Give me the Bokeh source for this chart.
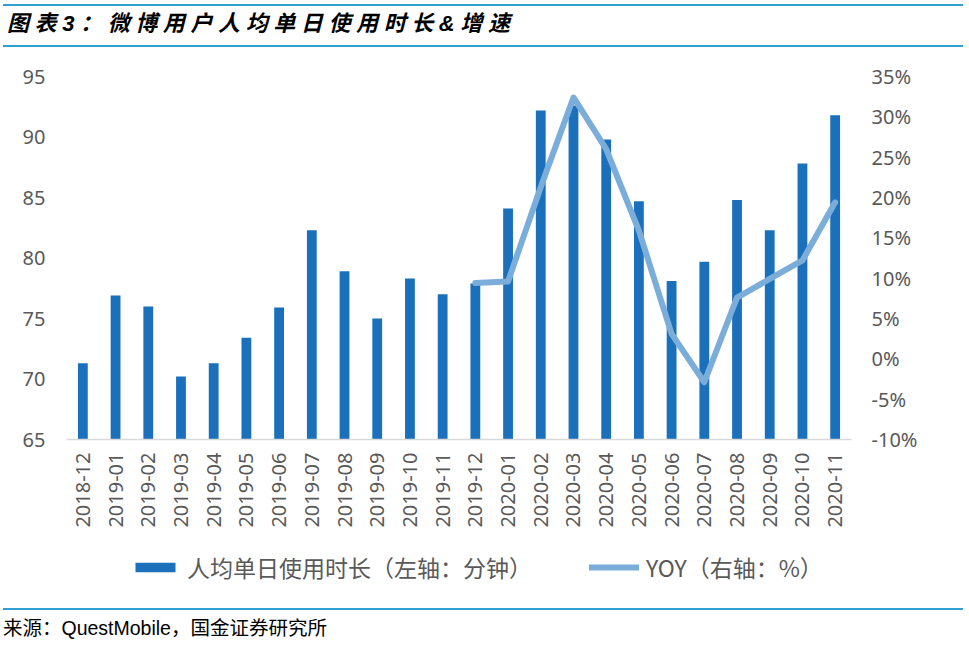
import math
from bokeh.plotting import figure
from bokeh.layouts import column
from bokeh.models import (FactorRange, Range1d, LinearAxis, FixedTicker, PrintfTickFormatter,
                          Legend, LegendItem, Div)
from bokeh.embed import file_html
from bokeh.resources import INLINE

# ---------------- data ----------------
months = ["2018-12", "2019-01", "2019-02", "2019-03", "2019-04", "2019-05", "2019-06",
          "2019-07", "2019-08", "2019-09", "2019-10", "2019-11", "2019-12",
          "2020-01", "2020-02", "2020-03", "2020-04", "2020-05", "2020-06",
          "2020-07", "2020-08", "2020-09", "2020-10", "2020-11"]
duration = [71.3, 76.9, 76.0, 70.2, 71.3, 73.4, 75.9, 82.3, 78.9, 75.0, 78.3, 77.0, 77.9,
            84.1, 92.2, 92.6, 89.8, 84.7, 78.1, 79.7, 84.8, 82.3, 87.8, 91.8]
yoy_months = ["2019-12", "2020-01", "2020-02", "2020-03", "2020-04", "2020-05",
              "2020-06", "2020-07", "2020-08", "2020-09", "2020-10", "2020-11"]
yoy = [9.4, 9.6, 21.3, 32.4, 26.0, 15.9, 3.1, -2.9, 7.6, 9.9, 12.2, 19.4]
left_ticks = [65, 70, 75, 80, 85, 90, 95]
right_ticks = [-10, -5, 0, 5, 10, 15, 20, 25, 30, 35]

title_text = "图表3：微博用户人均单日使用时长&增速"
source_text = "来源：QuestMobile，国金证券研究所"
bar_label = "人均单日使用时长（左轴：分钟）"
line_label = "YOY（右轴：%）"

# ---------------- style ----------------
W = 953
BAR_COLOR = "#1a70bb"
LINE_COLOR = "#7badda"
RULE_COLOR = "#2e9fcf"
GRAY = "#595959"
AX_FONT = "Noto Sans"
NAN = float("nan")

header = Div(
    text=('<div style="box-sizing:content-box;width:956px;height:39px;margin:4px 0 0 3px;'
          'padding-left:4px;border-top:2px solid %s;border-bottom:2px solid %s;'
          'font-family:\'Liberation Sans\',\'Noto Sans CJK SC\';font-weight:bold;'
          'font-style:italic;font-size:22px;line-height:36px;letter-spacing:5.6px;'
          'color:#000;white-space:nowrap;">%s</div>')
    % (RULE_COLOR, RULE_COLOR, title_text),
    width=W, height=48, margin=0)

p = figure(width=W, height=497, x_range=FactorRange(*months), y_range=Range1d(65, 95),
           output_backend="svg", toolbar_location=None,
           min_border_left=66, min_border_right=W - 851, min_border_top=28,
           min_border_bottom=106, margin=0)
p.extra_y_ranges = {"yoy": Range1d(-10, 35)}
p.xgrid.visible = False
p.ygrid.visible = False
p.outline_line_color = None

# left axis
ya = p.yaxis[0]
ya.ticker = FixedTicker(ticks=left_ticks)
ya.axis_line_color = None
ya.major_tick_line_color = None
ya.minor_tick_line_color = None
ya.major_tick_out = 0
ya.major_tick_in = 0
ya.major_label_standoff = 21
ya.major_label_text_font = AX_FONT
ya.major_label_text_font_size = "20px"
ya.major_label_text_color = GRAY

# right axis
ra = LinearAxis(y_range_name="yoy", ticker=FixedTicker(ticks=right_ticks),
                formatter=PrintfTickFormatter(format="%d%%"))
ra.axis_line_color = None
ra.major_tick_line_color = None
ra.minor_tick_line_color = None
ra.major_tick_out = 0
ra.major_tick_in = 0
ra.major_label_standoff = 20
ra.major_label_text_font = AX_FONT
ra.major_label_text_font_size = "20px"
ra.major_label_text_color = GRAY
p.add_layout(ra, "right")

# bottom axis
xa = p.xaxis[0]
xa.axis_line_color = "#d9d9d9"
xa.axis_line_width = 1.5
xa.major_tick_line_color = None
xa.minor_tick_line_color = None
xa.major_tick_out = 0
xa.major_tick_in = 0
xa.major_label_standoff = 13
xa.major_label_orientation = math.pi / 2
xa.major_label_text_font = AX_FONT
xa.major_label_text_font_size = "20px"
xa.major_label_text_color = GRAY

# marks
p.vbar(x=months, top=duration, bottom=65, width=0.3, fill_color=BAR_COLOR, line_color=None)
p.line(x=yoy_months, y=yoy, y_range_name="yoy", line_color=LINE_COLOR,
       line_width=6, line_join="round", line_cap="round")

# legend strip (own small figure; its frame is aligned with the chart frame by the column)
lg = figure(width=W, height=55, x_range=Range1d(0, 1), y_range=Range1d(0, 1),
            output_backend="svg", toolbar_location=None, x_axis_type=None, y_axis_type=None,
            min_border=0, margin=0)
lg.xgrid.visible = False
lg.ygrid.visible = False
lg.outline_line_color = None
sw_bar = lg.vbar(x=[NAN], top=[NAN], width=0.3, fill_color=BAR_COLOR, line_color=None)
sw_line = lg.line(x=[NAN], y=[NAN], line_color=LINE_COLOR, line_width=6, line_cap="round")
legend = Legend(items=[LegendItem(label=bar_label, renderers=[sw_bar]),
                       LegendItem(label=line_label, renderers=[sw_line])],
                location=(64, 16), orientation="horizontal",
                glyph_width=50, glyph_height=12, label_standoff=7, spacing=57,
                padding=0, margin=0, border_line_color=None, background_fill_alpha=0,
                label_text_font="Noto Sans CJK SC", label_text_font_size="23px",
                label_text_color=GRAY, label_text_baseline="middle")
lg.add_layout(legend)

footer = Div(
    text=('<div style="box-sizing:content-box;width:960px;height:30px;margin:8px 0 0 3px;'
          'border-top:2px solid %s;padding-top:7px;'
          'font-family:\'Liberation Sans\',\'Noto Sans CJK SC\';'
          'font-size:19.5px;line-height:22px;color:#000;white-space:nowrap;">%s</div>')
    % (RULE_COLOR, source_text),
    width=W, height=48, margin=0)

layout = column(header, p, lg, footer, spacing=0)
open("out.html", "w").write(file_html(layout, INLINE))
